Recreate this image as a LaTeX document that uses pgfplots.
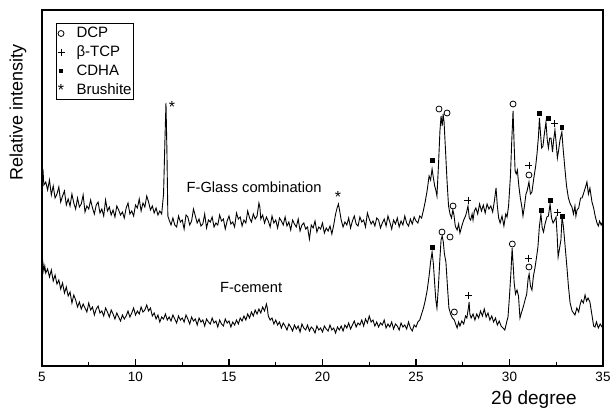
\documentclass[border=0pt]{standalone}
\usepackage{fontspec}
\setmainfont{Liberation Sans}
\usepackage{pgfplots}
\pgfplotsset{compat=1.18}

% F-Glass combination trace (y in arbitrary units)
\pgfplotstableread{
x y
5.0 188
5.05 197
5.1 181
5.2 184
5.3 176
5.4 186
5.5 171
5.6 180
5.7 168
5.8 172
5.9 179
6.0 164
6.1 170
6.2 175
6.3 161
6.4 167
6.5 160
6.6 172
6.7 163
6.8 157
6.9 168
7.0 159
7.1 162
7.2 171
7.3 154
7.4 160
7.5 157
7.6 166
7.7 158
7.8 152
7.9 161
8.0 164
8.1 153
8.2 157
8.3 150
8.4 166
8.5 155
8.6 159
8.7 151
8.8 156
8.9 149
9.0 160
9.1 156
9.2 151
9.3 154
9.4 148
9.5 158
9.6 163
9.7 152
9.8 155
9.9 150
10.0 161
10.1 158
10.2 167
10.3 155
10.4 163
10.5 159
10.6 170
10.7 164
10.8 156
10.9 160
11.0 153
11.1 158
11.2 151
11.3 155
11.4 152
11.5 172
11.58 230
11.63 263
11.68 215
11.73 150
11.8 146
11.9 141
12.0 148
12.1 141
12.2 139
12.3 150
12.4 144
12.5 146
12.6 137
12.7 151
12.8 149
12.9 141
13.0 145
13.1 157
13.2 150
13.3 143
13.4 147
13.5 140
13.6 142
13.7 152
13.8 138
13.9 146
14.0 144
14.1 149
14.2 139
14.3 143
14.4 141
14.5 151
14.6 145
14.7 147
14.8 137
14.9 145
15.0 150
15.1 142
15.2 144
15.3 139
15.4 153
15.5 147
15.6 149
15.7 140
15.8 146
15.9 143
16.0 155
16.1 148
16.2 144
16.3 152
16.4 147
16.5 150
16.6 163
16.65 159
16.7 147
16.8 151
16.9 143
17.0 149
17.1 145
17.2 139
17.3 150
17.4 143
17.5 146
17.6 138
17.7 148
17.8 145
17.9 141
18.0 149
18.1 140
18.2 144
18.3 136
18.4 146
18.5 142
18.6 139
18.7 147
18.8 135
18.9 141
19.0 143
19.1 137
19.2 139
19.3 127
19.4 141
19.5 138
19.6 145
19.7 134
19.8 139
19.9 137
20.0 143
20.1 133
20.2 138
20.3 135
20.4 140
20.5 132
20.6 141
20.7 152
20.78 158
20.85 162
20.92 155
21.0 146
21.1 139
21.2 144
21.3 141
21.4 148
21.5 138
21.6 145
21.7 150
21.8 142
21.9 140
22.0 149
22.1 144
22.2 146
22.3 139
22.4 153
22.5 147
22.6 142
22.7 145
22.8 140
22.9 148
23.0 146
23.1 138
23.2 143
23.3 147
23.4 140
23.5 150
23.6 144
23.7 137
23.8 146
23.9 142
24.0 148
24.1 139
24.2 145
24.3 141
24.4 150
24.5 143
24.6 140
24.7 147
24.8 142
24.9 149
25.0 145
25.1 143
25.2 150
25.3 148
25.4 156
25.5 165
25.6 176
25.7 190
25.78 186
25.86 197
25.93 188
26.0 180
26.06 176
26.12 170
26.2 200
26.28 235
26.34 250
26.4 240
26.45 252
26.5 244
26.58 215
26.66 185
26.74 160
26.82 152
26.9 148
26.97 156
27.03 151
27.1 140
27.2 136
27.28 142
27.35 133
27.45 140
27.55 146
27.65 150
27.72 155
27.78 160
27.85 148
27.92 146
28.0 152
28.05 146
28.12 155
28.2 158
28.3 152
28.4 162
28.5 155
28.6 161
28.7 153
28.8 162
28.9 157
29.0 160
29.1 154
29.2 166
29.28 178
29.35 160
29.42 148
29.5 143
29.6 150
29.7 140
29.8 152
29.87 149
29.95 160
30.05 190
30.12 225
30.19 255
30.25 220
30.3 195
30.36 192
30.42 196
30.5 180
30.58 168
30.67 158
30.72 150
30.8 160
30.88 172
30.94 175
31.04 184
31.12 172
31.2 174
31.3 188
31.4 200
31.47 212
31.55 230
31.6 248
31.66 232
31.72 218
31.79 220
31.85 230
31.95 244
32.02 226
32.08 218
32.15 228
32.22 228
32.3 214
32.36 226
32.43 236
32.5 222
32.56 208
32.62 215
32.7 226
32.8 234
32.86 219
32.95 200
33.05 180
33.15 168
33.25 162
33.34 159
33.42 152
33.5 160
33.55 150
33.61 156
33.7 158
33.8 168
33.88 168
33.95 172
34.05 178
34.14 184
34.22 172
34.3 178
34.41 164
34.5 158
34.58 150
34.68 143
34.75 140
34.82 145
34.9 141
34.95 143
35.0 142
}\glass

% F-cement trace
\pgfplotstableread{
x y
5.0 96
5.05 103
5.1 95
5.15 100
5.2 93
5.3 97
5.4 89
5.5 96
5.6 85
5.7 91
5.8 82
5.9 86
6.0 77
6.1 83
6.2 73
6.3 79
6.4 70
6.5 74
6.6 63
6.7 71
6.8 66
6.9 59
7.0 64
7.1 57
7.2 62
7.3 58
7.4 54
7.5 63
7.6 56
7.7 59
7.8 51
7.9 57
8.0 60
8.1 53
8.2 55
8.3 50
8.4 58
8.5 54
8.6 49
8.7 56
8.8 52
8.9 47
9.0 53
9.1 49
9.2 45
9.3 51
9.4 47
9.5 50
9.6 55
9.7 49
9.8 53
9.9 58
10.0 51
10.1 55
10.2 52
10.3 59
10.4 54
10.5 56
10.6 61
10.7 55
10.8 58
10.9 50
11.0 53
11.1 47
11.2 51
11.3 44
11.4 49
11.5 47
11.6 52
11.7 46
11.8 49
11.9 45
12.0 51
12.1 47
12.2 43
12.3 50
12.4 46
12.5 48
12.6 44
12.7 51
12.8 47
12.9 42
13.0 49
13.1 45
13.2 47
13.3 41
13.4 48
13.5 44
13.6 46
13.7 40
13.8 47
13.9 44
14.0 42
14.1 48
14.2 43
14.3 45
14.4 39
14.5 46
14.6 42
14.7 40
14.8 47
14.9 43
15.0 45
15.1 39
15.2 44
15.3 41
15.4 46
15.5 42
15.6 48
15.7 45
15.8 50
15.9 46
16.0 52
16.1 48
16.2 54
16.3 50
16.4 56
16.5 52
16.6 57
16.7 53
16.8 59
16.9 55
17.0 62
17.05 58
17.1 50
17.2 46
17.3 48
17.4 42
17.5 46
17.6 41
17.7 44
17.8 38
17.9 43
18.0 40
18.1 36
18.2 42
18.3 39
18.4 35
18.5 41
18.6 37
18.7 40
18.8 34
18.9 42
19.0 38
19.1 36
19.2 41
19.3 35
19.4 39
19.5 37
19.6 33
19.7 40
19.8 36
19.9 38
20.0 34
20.1 40
20.2 37
20.3 35
20.4 41
20.5 36
20.6 38
20.7 33
20.8 39
20.9 36
21.0 40
21.1 35
21.2 41
21.3 38
21.4 43
21.5 37
21.6 41
21.7 45
21.8 39
21.9 43
22.0 41
22.1 46
22.2 40
22.3 47
22.4 43
22.5 50
22.6 44
22.7 46
22.8 40
22.9 44
23.0 39
23.1 43
23.2 41
23.3 46
23.4 38
23.5 42
23.6 39
23.7 44
23.8 37
23.9 42
24.0 40
24.1 36
24.2 43
24.3 39
24.4 41
24.5 37
24.6 44
24.7 38
24.8 35
24.9 41
25.0 39
25.1 44
25.2 46
25.3 52
25.4 58
25.5 66
25.6 76
25.7 90
25.78 104
25.86 114
25.93 102
26.0 82
26.06 66
26.12 58
26.2 80
26.28 108
26.34 126
26.4 130
26.46 124
26.52 112
26.6 104
26.68 80
26.76 58
26.85 52
26.95 48
27.05 46
27.12 42
27.2 38
27.28 44
27.35 40
27.45 45
27.55 42
27.65 50
27.72 48
27.8 58
27.84 64
27.88 52
27.95 48
28.05 52
28.15 46
28.25 52
28.35 48
28.45 55
28.55 50
28.65 57
28.75 49
28.85 53
28.95 46
29.05 50
29.15 44
29.25 48
29.35 41
29.45 45
29.55 40
29.65 38
29.75 36
29.85 44
29.92 49
30.0 70
30.08 95
30.14 118
30.2 100
30.25 83
30.32 72
30.4 76
30.48 70
30.56 48
30.65 54
30.75 60
30.83 66
30.92 72
31.0 88
31.05 92
31.12 80
31.2 76
31.28 90
31.36 98
31.44 108
31.52 119
31.6 140
31.68 152
31.75 138
31.82 134
31.9 142
32.0 149
32.08 150
32.17 162
32.25 148
32.33 143
32.42 146
32.49 149
32.55 130
32.6 109
32.68 118
32.75 126
32.81 149
32.88 140
32.95 125
33.07 99
33.15 80
33.24 63
33.35 55
33.5 51
33.6 58
33.7 54
33.77 61
33.85 66
33.95 63
34.04 71
34.12 65
34.2 68
34.3 64
34.4 52
34.5 40
34.57 39
34.65 44
34.75 38
34.85 42
34.95 39
35.0 41
}\cement

\begin{document}
\begin{tikzpicture}
\begin{axis}[
    scale only axis,
    width=561pt, height=356pt,
    xmin=5, xmax=35, ymin=0, ymax=356,
    xtick={5,10,...,35},
    minor x tick num=1,
    xtick pos=left,
    ytick=\empty,
    major tick length=7pt,
    minor tick length=4pt,
    tick style={line width=1.2pt, black},
    axis line style={line width=1.6pt},
    /pgf/number format/assume math mode=true,
    ticklabel style={font=\fontsize{13.5}{16}\selectfont},
    xticklabel style={yshift=-3pt, inner xsep=0pt},
    clip=false,
    legend style={draw=black, line width=1pt, at={(axis cs:5.75,343)}, anchor=north west,
        font=\fontsize{15}{18}\selectfont, inner xsep=0pt, inner ysep=2pt, row sep=2.5pt},
    legend cell align=left,
    legend image code/.code={\draw plot coordinates {(3pt,0pt)};
        \path (-1pt,0pt) (16pt,0pt);},
]
\addplot[black, line width=0.9pt, forget plot] table {\glass};
\addplot[black, line width=0.9pt, forget plot] table {\cement};

% DCP
\addplot[only marks, mark=o, mark size=3pt, black, mark options={line width=0.8pt}]
    coordinates {(26.23,257) (26.66,253) (26.98,160) (30.19,262) (31.04,191)
                 (26.39,134) (26.82,129) (27.05,54) (30.15,122) (31.04,99)};
\addlegendentry{DCP}
% beta-TCP
\addplot[only marks, mark=+, mark size=3.5pt, black, mark options={line width=0.9pt}]
    coordinates {(27.78,166) (31.04,201) (32.43,243)
                 (27.83,71) (31.01,108) (32.56,154)};
\addlegendentry{β-TCP}
% CDHA
\addplot[only marks, mark=square*, mark size=1.8pt, black]
    coordinates {(25.86,206) (31.58,253) (32.06,248) (32.79,239)
                 (25.86,119) (31.68,156) (32.18,166) (32.82,150)};
\addlegendentry{CDHA}
% Brushite
\addplot[only marks, mark=text, text mark={\fontsize{16}{16}\selectfont *}, black]
    coordinates {(11.95,259) (20.83,169)};
\addlegendentry{Brushite}

\node[font=\fontsize{14.7}{16}\selectfont] at (axis cs:16.34,179) {F-Glass combination};
\node[font=\fontsize{14.7}{16}\selectfont] at (axis cs:16.18,78) {F-cement};
\node[font=\fontsize{19}{22}\selectfont] at (axis cs:31.31,-34) {2θ degree};
\node[font=\fontsize{18}{20}\selectfont, rotate=90] at (axis cs:3.72,254) {Relative intensity};
\end{axis}
\pgfresetboundingbox
\useasboundingbox (-42pt,-50pt) rectangle (568pt,366pt);
\end{tikzpicture}
\end{document}
